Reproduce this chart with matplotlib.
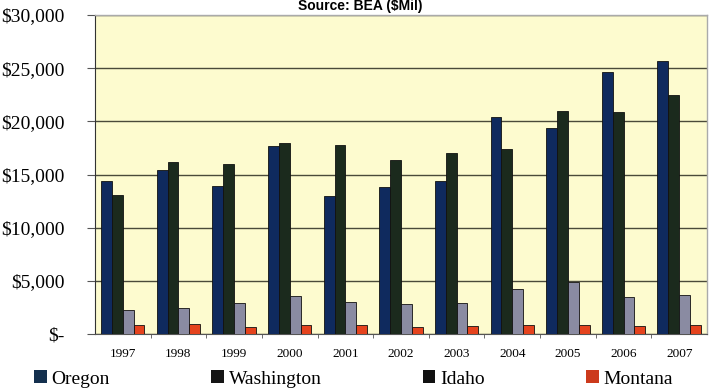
import matplotlib
matplotlib.use("Agg")
import matplotlib.pyplot as plt
import numpy as np
from matplotlib.patches import Patch
from matplotlib.font_manager import FontProperties
from matplotlib.ticker import FuncFormatter, MultipleLocator, FixedLocator

years = ["1997", "1998", "1999", "2000", "2001", "2002", "2003", "2004", "2005", "2006", "2007"]
oregon = [14400, 15400, 13900, 17700, 12950, 13800, 14400, 20450, 19400, 24650, 25700]
washington = [13100, 16200, 15950, 17950, 17800, 16400, 17000, 17400, 21000, 20850, 22500]
idaho = [2250, 2450, 2900, 3550, 3050, 2800, 2950, 4200, 4850, 3450, 3650]
montana = [850, 900, 650, 800, 800, 650, 750, 800, 800, 750, 850]

series = [("Oregon", oregon, "#0f2a5e"),
          ("Washington", washington, "#1b2a1d"),
          ("Idaho", idaho, "#8a8ba2"),
          ("Montana", montana, "#e5431d")]
legend_colors = ["#14304e", "#151515", "#111111", "#cc3a1c"]

fig = plt.figure(figsize=(7.13, 3.91), dpi=100)
ax = fig.add_axes([0.1332, 0.1458, 0.8584, 0.8158])
ax.set_facecolor("#fdfbcf")

x = np.arange(len(years))
w = 0.195
offsets = (np.arange(4) - 1.5) * w
for (name, vals, col), off in zip(series, offsets):
    ax.bar(x + off, vals, width=w, color=col, edgecolor="#111111", linewidth=0.6, zorder=3)

ax.set_xlim(-0.5, len(years) - 0.5)
ax.set_ylim(0, 30000)
ax.yaxis.set_major_locator(MultipleLocator(5000))
ax.yaxis.set_major_formatter(FuncFormatter(lambda v, p: "$-" if v == 0 else f"${v:,.0f}"))
ax.grid(axis="y", color="#4a4a3a", linewidth=1.0, zorder=1)

ax.set_xticks(x)
ax.set_xticklabels(years, family="Liberation Serif", fontsize=9.5)
ax.xaxis.set_minor_locator(FixedLocator(np.arange(0.5, len(years) - 0.5, 1)))
ax.tick_params(axis="x", which="major", length=0, pad=10)
ax.tick_params(axis="x", which="minor", length=3, color="#555555", direction="out")
ax.tick_params(axis="y", length=6, color="#555555", pad=16, labelsize=14)
for lab in ax.get_yticklabels():
    lab.set_family("Liberation Serif")

for side in ["top", "right"]:
    ax.spines[side].set_color("#aaaaaa")
    ax.spines[side].set_linewidth(1.0)
ax.spines["left"].set_color("#333333")
ax.spines["bottom"].set_color("#555555")

fig.text(0.505, 0.984, "Source: BEA ($Mil)", ha="center", va="center",
         fontsize=10, fontweight="bold", family="Liberation Sans")

handles = [Patch(facecolor=c, edgecolor="none") for c in legend_colors]
leg = fig.legend(handles, [s[0] for s in series], loc="center left",
                 bbox_to_anchor=(0.048, 0.031), ncol=4, frameon=False,
                 prop=FontProperties(family="Liberation Serif", size=14),
                 handlelength=0.65, handleheight=0.65, handletextpad=0.25,
                 columnspacing=5.2, borderaxespad=0, borderpad=0)

fig.savefig("out.png", dpi=100)
